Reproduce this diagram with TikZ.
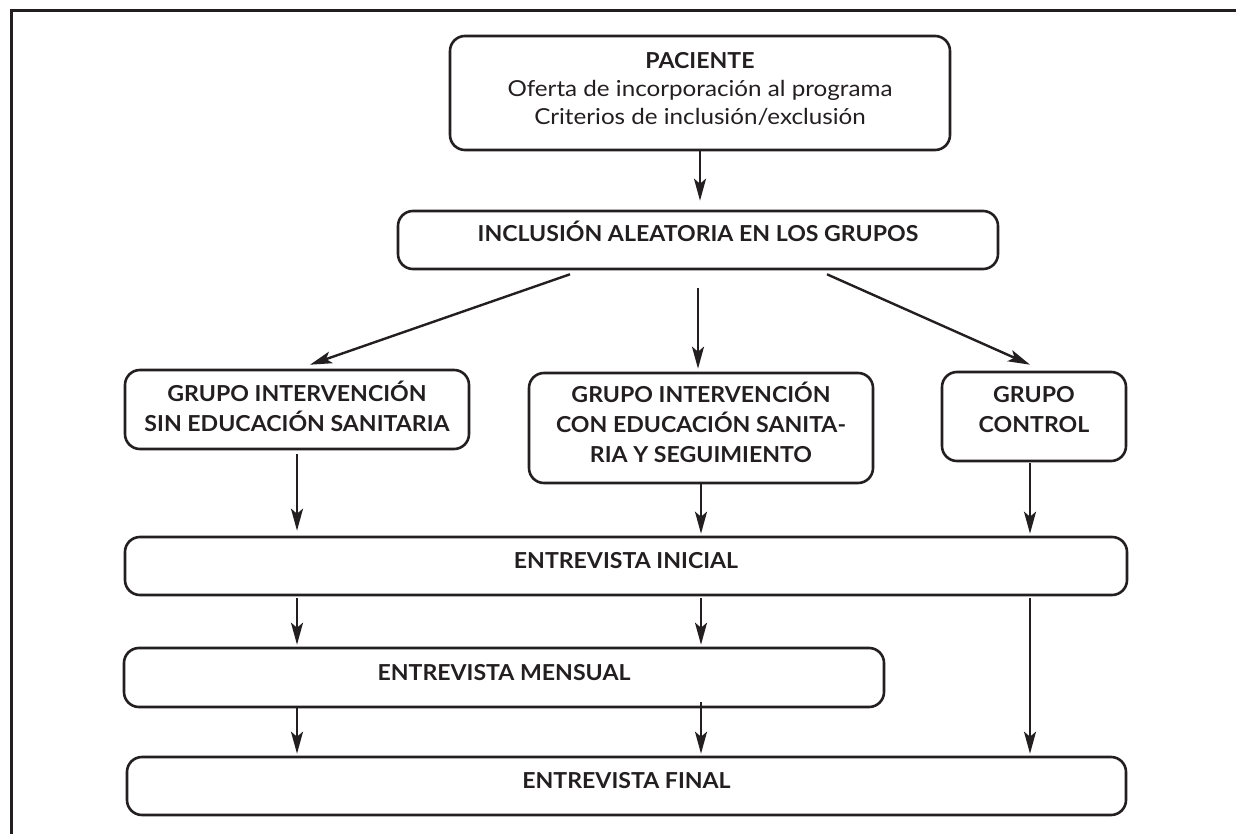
\documentclass[tikz,border=0pt]{standalone}
\usepackage{fontspec}
\setmainfont{Lato}[UprightFeatures={FakeStretch=1.1},BoldFeatures={FakeStretch=1.05}]
\usetikzlibrary{arrows.meta,calc}
\definecolor{ink}{HTML}{231F20}
\begin{document}
\begin{tikzpicture}[x=1pt,y=-1pt,
  box/.style={draw=ink, line width=2.6pt, rounded corners=15pt, inner sep=0pt,
    align=center, text=ink},
  head/.style={font=\fontsize{22}{30}\selectfont\bfseries},
  arr/.style={draw=ink, line width=2.4pt, -{Stealth[length=22pt,width=12pt,inset=5pt]}},
  frame/.style={draw=ink, line width=3pt},
]
\useasboundingbox (0,0) rectangle (1236,834);

% open frame: left and top edges only
\draw[frame] (11,834) -- (11,11) -- (1236,11);

% boxes (text height/depth place the lettering slightly above the middle)
\node[box, font=\fontsize{22}{28}\selectfont, minimum width=500pt, minimum height=114pt,
  text height=72pt, text depth=8pt] (pac) at (700,93)
  {{\bfseries PACIENTE}\\Oferta de incorporación al programa\\Criterios de inclusión/exclusión};
\node[box, head, minimum width=600pt, minimum height=58pt, text height=16pt, text depth=12pt] (inc) at (698,240)
  {INCLUSIÓN ALEATORIA EN LOS GRUPOS};
\node[box, head, minimum width=344pt, minimum height=79pt, text height=46pt, text depth=3pt] (g1) at (297,409.5)
  {GRUPO INTERVENCIÓN\\SIN EDUCACIÓN SANITARIA};
\node[box, head, minimum width=344pt, minimum height=110pt, text height=76pt, text depth=7pt] (g2) at (701,428)
  {GRUPO INTERVENCIÓN\\CON EDUCACIÓN SANITA-\\RIA Y SEGUIMIENTO};
\node[box, head, minimum width=184pt, minimum height=89pt, text height=46pt, text depth=14pt] (g3) at (1034,416.5)
  {GRUPO\\CONTROL};
\node[box, head, minimum width=1002pt, minimum height=58pt, text height=16pt, text depth=12pt] (ini) at (626,566)
  {ENTREVISTA INICIAL};
\node[box, head, minimum width=760pt, minimum height=59pt, text height=16pt, text depth=10pt] (men) at (504,677.5)
  {ENTREVISTA MENSUAL};
\node[box, head, minimum width=999pt, minimum height=58pt, text height=16pt, text depth=12pt] (fin) at (626.5,786)
  {ENTREVISTA FINAL};

% the control column runs a little left of its box centre
\coordinate (ctl) at ($(g3.south)+(-4,0)$);

% connectors
\draw[arr, shorten >=9pt] (pac.south) -- (pac.south |- inc.north);
\draw[arr] ($(inc.south)+(-128,4)$) -- ($(g1.north)+(13,-4)$);
\draw[arr, shorten <=18pt, shorten >=3pt] (inc.south) -- (inc.south |- g2.north);
\draw[arr] ($(inc.south)+(129,4)$) -- ($(g3.north)+(-4,-6)$);

\draw[arr, shorten <=4pt, shorten >=5pt] (g1.south) -- (g1.south |- ini.north);
\draw[arr, shorten >=2pt] (g2.south) -- (g2.south |- ini.north);
\draw[arr, shorten <=1pt, shorten >=2pt] (ctl) -- (ctl |- ini.north);

\draw[arr, shorten <=2pt, shorten >=2pt] (g1.south |- ini.south) -- (g1.south |- men.north);
\draw[arr, shorten <=2pt, shorten >=2pt] (g2.south |- ini.south) -- (g2.south |- men.north);

\draw[arr, shorten >=2pt] (g1.south |- men.south) -- (g1.south |- fin.north);
\draw[arr, shorten >=2pt] ($(g2.south |- men.south)+(0,-6)$) -- (g2.south |- fin.north);
\draw[arr, shorten <=2pt, shorten >=2pt] (ctl |- ini.south) -- (ctl |- fin.north);
\end{tikzpicture}
\end{document}
